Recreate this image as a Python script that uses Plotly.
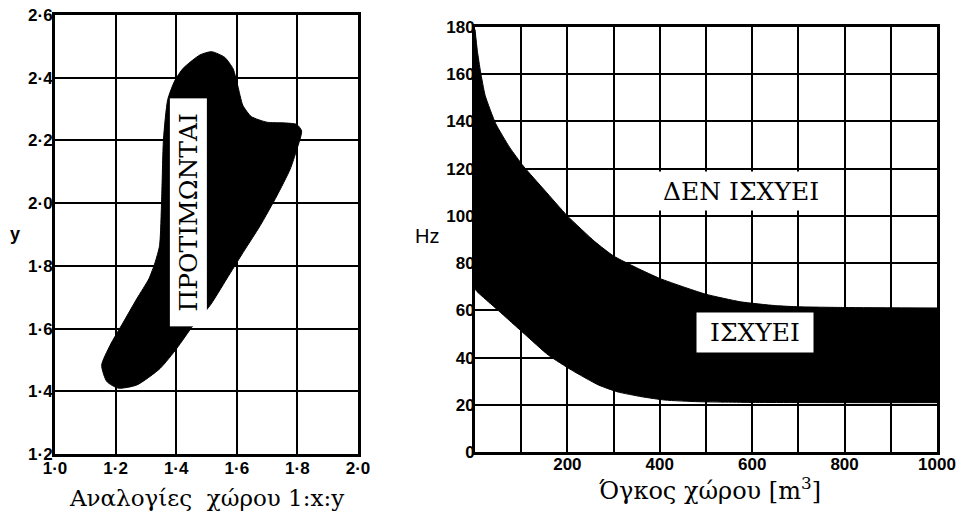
import plotly.graph_objects as go

# ---------------- data: left chart (preferred room proportions 1:x:y) ----------------
blob_x = [1.517, 1.560, 1.588, 1.603, 1.620, 1.648, 1.700, 1.753, 1.798, 1.814, 1.798, 1.776, 1.732,
          1.677, 1.621, 1.567, 1.512, 1.456, 1.402, 1.347, 1.270, 1.209, 1.171, 1.154,
          1.182, 1.226, 1.270, 1.310, 1.330, 1.345, 1.352, 1.358, 1.372, 1.395, 1.423,
          1.479, 1.517]
blob_y = [2.483, 2.465, 2.428, 2.375, 2.312, 2.276, 2.258, 2.256, 2.251, 2.230, 2.171, 2.108, 2.023,
          1.928, 1.843, 1.759, 1.674, 1.610, 1.537, 1.473, 1.420, 1.410, 1.431, 1.483,
          1.547, 1.621, 1.695, 1.759, 1.810, 1.864, 2.013, 2.203, 2.330, 2.390, 2.430,
          2.473, 2.483]
left_xtick_vals = [1.0, 1.2, 1.4, 1.6, 1.8, 2.0]
left_xtick_text = ["1·0", "1·2", "1·4", "1·6", "1·8", "2·0"]
left_ytick_vals = [1.2, 1.4, 1.6, 1.8, 2.0, 2.2, 2.4, 2.6]
left_ytick_text = ["1·2", "1·4", "1·6", "1·8", "2·0", "2·2", "2·4", "2·6"]
left_label = "ΠΡΟΤΙΜΩΝΤΑΙ"
left_label_pos = (1.441, 1.971)

# ---------------- data: right chart (frequency vs room volume) ----------------
upper_v = [0, 5, 12, 22, 45, 75, 105, 150, 200, 260, 300, 350, 400, 450, 500, 575, 650, 700, 800, 1000]
upper_hz = [179, 170, 161, 151, 139, 129, 121, 111, 100, 89, 83, 78, 73.5, 70, 66.8, 63.6, 62, 61.5, 61.2, 61]
lower_v = [0, 4, 50, 107, 159, 209, 267, 308, 361, 411, 483, 600, 800, 1000]
lower_hz = [69, 68, 60, 50, 41, 34.7, 28.4, 25.5, 23.4, 22, 21.3, 21, 20.9, 20.9]
right_xtick_vals = [0, 100, 200, 300, 400, 500, 600, 700, 800, 900, 1000]
right_xtick_text = ["", "", "200", "", "400", "", "600", "", "800", "", "1000"]
right_ytick_vals = [0, 20, 40, 60, 80, 100, 120, 140, 160, 180]
right_ytick_text = ["0", "20", "40", "60", "80", "100", "120", "140", "160", "180"]
label_invalid = "ΔΕΝ ΙΣΧΥΕΙ"
label_invalid_pos = (576, 110.5)
label_valid = "ΙΣΧΥΕΙ"
label_valid_pos = (606, 50.6)

W, H = 962, 515
SERIF = "DejaVu Serif"
SANS = "Liberation Sans"

fig = go.Figure()
fig.add_trace(go.Scatter(x=blob_x, y=blob_y, mode="lines", fill="toself",
                         fillcolor="black", line=dict(color="black", width=1, shape="spline", smoothing=0.6),
                         xaxis="x", yaxis="y", hoverinfo="skip", showlegend=False))
fig.add_trace(go.Scatter(x=lower_v, y=lower_hz, mode="lines",
                         line=dict(color="black", width=1, shape="spline", smoothing=0.5),
                         xaxis="x2", yaxis="y2", hoverinfo="skip", showlegend=False))
fig.add_trace(go.Scatter(x=upper_v, y=upper_hz, mode="lines", fill="tonexty", fillcolor="black",
                         line=dict(color="black", width=1, shape="spline", smoothing=0.5),
                         xaxis="x2", yaxis="y2", hoverinfo="skip", showlegend=False))

def px_x(p):
    return p / W

def px_y(p):
    return 1 - p / H

axis_common = dict(showline=True, linecolor="black", linewidth=3, mirror=True, automargin=False,
                   showgrid=True, gridcolor="black", gridwidth=2, zeroline=False,
                   ticks="", tickfont=dict(family=SANS, size=17, color="black", weight="bold"))

fig.update_layout(
    width=W, height=H, margin=dict(l=0, r=0, t=0, b=0, autoexpand=False),
    paper_bgcolor="white", plot_bgcolor="white", showlegend=False,
    xaxis=dict(domain=[px_x(55), px_x(358)], range=[1.0, 2.0], anchor="y", ticklabelstandoff=-3,
               tickvals=left_xtick_vals, ticktext=left_xtick_text, **axis_common),
    yaxis=dict(domain=[px_y(454), px_y(15)], range=[1.2, 2.6], anchor="x", ticklabelstandoff=-4,
               tickvals=left_ytick_vals, ticktext=left_ytick_text, **axis_common),
    xaxis2=dict(domain=[px_x(475), px_x(937)], range=[0, 1000], anchor="y2", ticklabelstandoff=-5,
                tickvals=right_xtick_vals, ticktext=right_xtick_text, **axis_common),
    yaxis2=dict(domain=[px_y(452), px_y(27)], range=[0, 180], anchor="x2", ticklabelstandoff=-6,
                tickvals=right_ytick_vals, ticktext=right_ytick_text, **axis_common),
)

ann = []
ann.append(dict(x=left_label_pos[0], y=left_label_pos[1], xref="x", yref="y", text=left_label,
                textangle=-90, showarrow=False, bgcolor="white", borderpad=3, width=221, height=30,
                xanchor="center", yanchor="middle",
                font=dict(family=SERIF, size=25, color="black")))
ann.append(dict(x=label_invalid_pos[0], y=label_invalid_pos[1], xref="x2", yref="y2", text=label_invalid,
                showarrow=False, bgcolor="white", borderpad=2, width=166, height=34,
                xanchor="center", yanchor="middle",
                font=dict(family=SERIF, size=25, color="black")))
ann.append(dict(x=label_valid_pos[0], y=label_valid_pos[1], xref="x2", yref="y2", text=label_valid,
                showarrow=False, bgcolor="white", borderpad=3, width=110, height=33,
                xanchor="center", yanchor="middle",
                font=dict(family=SERIF, size=25, color="black")))
# axis titles
ann.append(dict(x=px_x(15), y=px_y(234), xref="paper", yref="paper", text="<b>y</b>", showarrow=False,
                xanchor="center", yanchor="middle",
                font=dict(family=SANS, size=18, color="black")))
ann.append(dict(x=px_x(427), y=px_y(236), xref="paper", yref="paper", text="Hz", showarrow=False,
                xanchor="center", yanchor="middle",
                font=dict(family=SANS, size=20, color="black")))
ann.append(dict(x=px_x(206), y=px_y(498), xref="paper", yref="paper",
                text="Αναλογίες\u00a0 χώρου 1:x:y", showarrow=False,
                xanchor="center", yanchor="middle",
                font=dict(family=SERIF, size=23, color="black")))
ann.append(dict(x=px_x(710), y=px_y(489), xref="paper", yref="paper",
                text="Όγκος χώρου [m<sup>3</sup>]", showarrow=False,
                xanchor="center", yanchor="middle",
                font=dict(family=SERIF, size=24, color="black")))
fig.update_layout(annotations=ann)

fig.write_html("out.html")
